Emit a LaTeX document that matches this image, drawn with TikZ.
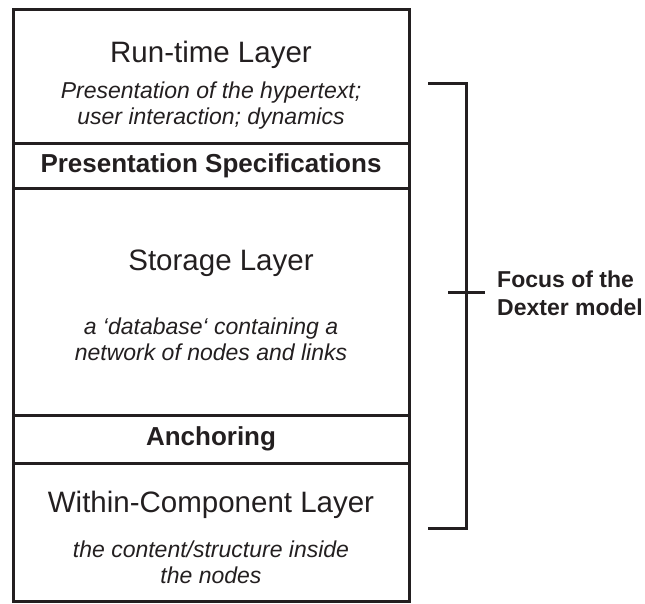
\documentclass[tikz,border=0pt]{standalone}
\usepackage{fontspec}
\setmainfont{Liberation Sans}
\definecolor{ink}{HTML}{231F20}
\begin{document}
\begin{tikzpicture}[x=1pt,y=-1pt,
  layer/.style={draw=ink, line width=3pt, minimum width=396pt, inner sep=0pt, anchor=north},
  title/.style={text=ink, font=\fontsize{29.5}{34}\selectfont, anchor=base, inner sep=0pt},
  desc/.style={text=ink, font=\fontsize{23}{26}\selectfont\itshape, anchor=base, inner sep=0pt, align=center},
  boldlbl/.style={text=ink, font=\fontsize{26}{30}\selectfont\bfseries, anchor=base, inner sep=0pt},
  focuslbl/.style={text=ink, font=\fontsize{23}{28}\selectfont\bfseries, anchor=base west, inner sep=0pt, align=left},
  brk/.style={draw=ink, line width=3pt}
]
\useasboundingbox (0,0) rectangle (645,604);
% layer boxes
\node[layer, minimum height=134pt] (run) at (211,8) {};
\node[layer, minimum height=45pt] (spec) at (211,142) {};
\node[layer, minimum height=227pt] (stor) at (211,187) {};
\node[layer, minimum height=48pt] (anch) at (211,414) {};
\node[layer, minimum height=138pt] (within) at (211,462) {};
% texts
\node[title] (runT) at (211,63) {Run-time Layer};
\node[desc] (runD) at (211,125) {Presentation of the hypertext;\\user interaction; dynamics};
\node[boldlbl] (specT) at (211,173) {Presentation Specifications};
\node[title] (storT) at (221,270) {Storage Layer};
\node[desc] (storD) at (211,360) {a ‘database‘ containing a\\network of nodes and links};
\node[boldlbl] (anchT) at (211,445) {Anchoring};
\node[title] (withinT) at (211,512) {Within-Component Layer};
\node[desc] (withinD) at (211,583) {the content/structure inside\\the nodes};
% bracket
\coordinate (bt0) at (428,84);
\coordinate (bt1) at (466,84);
\coordinate (bb1) at (466,528);
\coordinate (bb0) at (428,528);
\coordinate (tk0) at (448,292);
\coordinate (tk1) at (485,292);
\draw[brk] (bt0) -- (bt1) -- (bb1) -- (bb0);
\draw[brk] (tk0) -- (tk1);
\node[focuslbl] (focus) at (497,315) {Focus of the\\Dexter model};
\end{tikzpicture}
\end{document}
